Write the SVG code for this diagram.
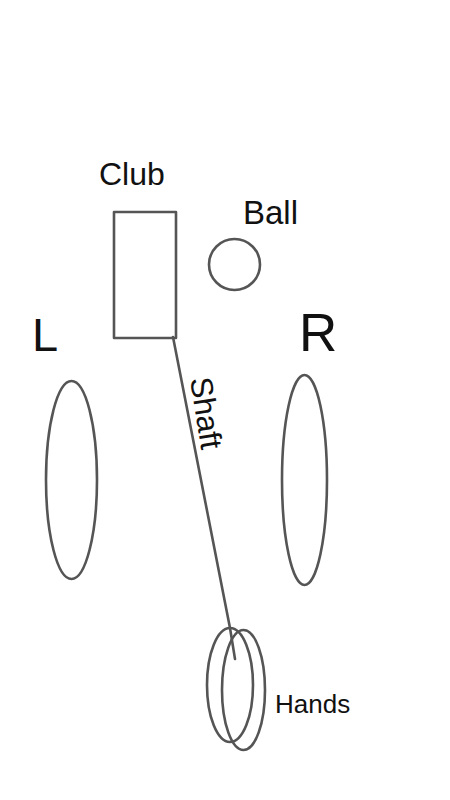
<svg xmlns="http://www.w3.org/2000/svg" width="450" height="800" viewBox="0 0 450 800">
<style>
.s{fill:none;stroke:#555;stroke-width:2.6;stroke-linecap:round;stroke-linejoin:round}
.t{font-family:"Liberation Sans",Arial,Helvetica,sans-serif;fill:#111}
</style>
<rect width="450" height="800" fill="#fff"/>
<g id="club">
<rect class="s" x="114" y="212" width="62" height="126"/>
<text class="t" x="99" y="185" font-size="32">Club</text>
</g>
<g id="ball">
<circle class="s" cx="234.5" cy="264.5" r="25.5"/>
<text class="t" x="243" y="224" font-size="33">Ball</text>
</g>
<g id="left">
<text class="t" x="32" y="351" font-size="47">L</text>
<ellipse class="s" cx="71.5" cy="480" rx="25.5" ry="99"/>
</g>
<g id="right">
<text class="t" x="299" y="351" font-size="53">R</text>
<ellipse class="s" cx="304.5" cy="480" rx="22.5" ry="105"/>
</g>
<g id="hands">
<ellipse class="s" cx="230" cy="685" rx="23" ry="57"/>
<ellipse class="s" cx="243.5" cy="690" rx="21.5" ry="60"/>
<text class="t" x="275" y="713" font-size="26">Hands</text>
</g>
<g id="connectors">
<path class="s" d="M173 337 L230 628 L235 659"/>
<text class="t" font-size="31" transform="translate(190 379) rotate(81)">Shaft</text>
</g>
</svg>
